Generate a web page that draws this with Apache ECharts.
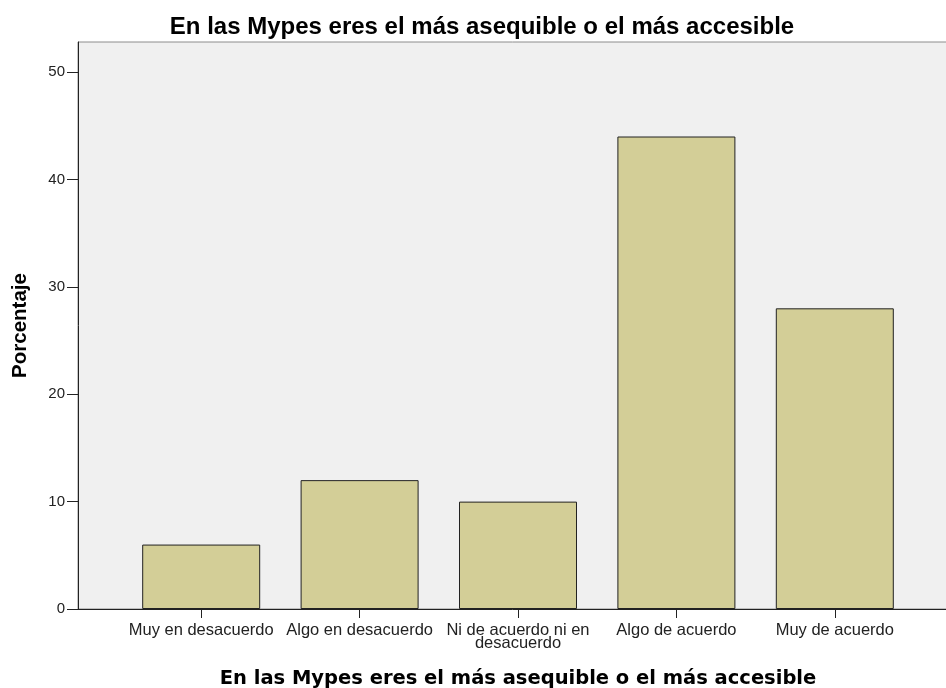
<!DOCTYPE html>
<html>
<head>
<meta charset="utf-8">
<script src="https://cdn.jsdelivr.net/npm/echarts@6/dist/echarts.min.js"></script>
<style>
  html, body { margin: 0; padding: 0; background: #fff; }
  #chart { width: 946px; height: 688px; }
</style>
</head>
<body>
<div id="chart"></div>
<script>
var titleText = 'En las Mypes eres el más asequible o el más accesible';
var categories = ['Muy en desacuerdo', 'Algo en desacuerdo', 'Ni de acuerdo ni en\ndesacuerdo', 'Algo de acuerdo', 'Muy de acuerdo'];
var porcentaje = [6, 12, 10, 44, 28];
var yTicks = [0, 10, 20, 30, 40, 50];
var yMax = 52.8;

var myChart = echarts.init(document.getElementById('chart'));

var option = {
    animation: false,
    title: {
        text: titleText,
        left: 477,
        top: 10,
        textAlign: 'center',
        textStyle: { fontFamily: 'Liberation Sans', fontWeight: 'bold', fontSize: 24, color: '#000' }
    },
    grid: [
        // plot frame + background
        { left: 78, right: -2, top: 42, bottom: 79, outerBoundsMode: 'none', containLabel: false,
          show: true, backgroundColor: '#f0f0f0', borderColor: '#8c8c8c', borderWidth: 1 },
        // bars
        { left: 122, right: 32, top: 42, bottom: 79, outerBoundsMode: 'none', containLabel: false }
    ],
    xAxis: [
        {
            gridIndex: 0, type: 'value', min: 0, max: 1,
            axisLine: { show: true, onZero: false, lineStyle: { color: '#222', width: 1 } },
            axisTick: { show: false }, axisLabel: { show: false }, splitLine: { show: false }
        },
        {
            gridIndex: 1, type: 'category', data: categories,
            name: titleText, nameLocation: 'middle', nameGap: 60,
            nameTextStyle: { fontFamily: 'DejaVu Sans', fontWeight: 'bold', fontSize: 19.5, color: '#000' },
            axisLine: { show: false },
            axisTick: { show: true, alignWithLabel: true, length: 9, lineStyle: { color: '#222' } },
            axisLabel: { interval: 0, margin: 15, fontFamily: 'Liberation Sans', fontSize: 16.5, color: '#222', lineHeight: 13 }
        }
    ],
    yAxis: [
        {
            gridIndex: 0, type: 'value', min: 0, max: yMax,
            name: 'Porcentaje', nameLocation: 'middle', nameGap: 47,
            nameTextStyle: { fontFamily: 'Liberation Sans', fontWeight: 'bold', fontSize: 20.5, color: '#000' },
            axisLine: { show: true, lineStyle: { color: '#222', width: 1 } },
            axisTick: { show: true, length: 11, customValues: yTicks, lineStyle: { color: '#222' } },
            axisLabel: { customValues: yTicks, margin: 13, fontFamily: 'Liberation Sans', fontSize: 15, color: '#222' },
            splitLine: { show: false }
        },
        {
            gridIndex: 1, type: 'value', min: 0, max: yMax, show: false
        }
    ],
    series: [{
        name: 'Porcentaje',
        type: 'bar',
        xAxisIndex: 1,
        yAxisIndex: 1,
        data: porcentaje,
        barWidth: 118,
        itemStyle: { color: '#d3ce97', borderColor: '#222', borderWidth: 1 }
    }]
};

myChart.setOption(option);
</script>
</body>
</html>
